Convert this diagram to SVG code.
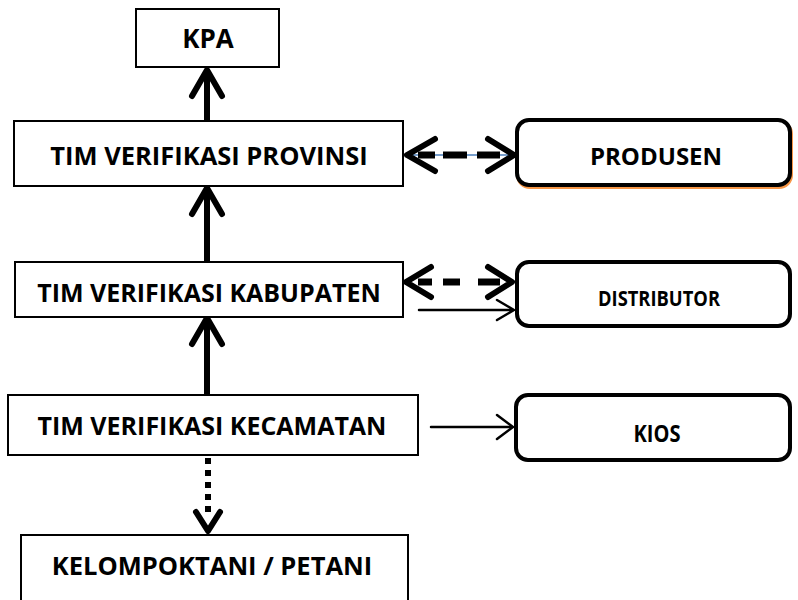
<svg xmlns="http://www.w3.org/2000/svg" width="798" height="600" viewBox="0 0 798 600">
<style>
.box{fill:#fff;stroke:#000;stroke-width:2}
.rbox{fill:#fff;stroke:#000;stroke-width:4}
.t{font-family:"Open Sans","Noto Sans","Liberation Sans",sans-serif;font-weight:bold;font-size:19px;fill:#000;text-anchor:middle;dominant-baseline:central}
.thick{stroke:#000;stroke-width:6;fill:none;stroke-linecap:round;stroke-linejoin:round}
.shaft{stroke:#000;stroke-width:6;fill:none}
.dash{stroke:#000;stroke-width:7;fill:none}
.thin{stroke:#000;stroke-width:2.5;fill:none;stroke-linecap:round;stroke-linejoin:round}
</style>
<rect width="798" height="600" fill="#fff"/>
<g id="connectors">
  <line class="shaft" x1="207" y1="121" x2="207" y2="72"/>
  <polyline class="thick" points="192,96 207,70 222,96"/>
  <line class="shaft" x1="207" y1="262" x2="207" y2="190"/>
  <polyline class="thick" points="192,214 207,188 222,214"/>
  <line class="shaft" x1="207" y1="395" x2="207" y2="320"/>
  <polyline class="thick" points="192,344 207,318 222,344"/>
  <line stroke="#000" stroke-width="6" stroke-dasharray="6,6" x1="208" y1="458" x2="208" y2="512"/>
  <polyline class="thick" points="196,512 208,531 220,512"/>
  <line stroke="#4a7ebb" stroke-width="1.5" x1="406" y1="155" x2="513" y2="155"/>
  <line class="dash" x1="418" y1="155" x2="435" y2="155"/>
  <line class="dash" x1="443" y1="155" x2="467" y2="155"/>
  <line class="dash" x1="477" y1="155" x2="500" y2="155"/>
  <polyline class="thick" points="435,139 407,155 435,171"/>
  <polyline class="thick" points="488,139 514,155 488,171"/>
  <line class="dash" x1="418" y1="282" x2="432" y2="282"/>
  <line class="dash" x1="443" y1="282" x2="460" y2="282"/>
  <line class="dash" x1="478" y1="282" x2="500" y2="282"/>
  <polyline class="thick" points="431,267 406,282 431,297"/>
  <polyline class="thick" points="488,267 512,282 488,297"/>
  <line class="thin" x1="419" y1="310" x2="513" y2="310"/>
  <polyline class="thin" points="497,300 514,310 497,320"/>
  <line class="thin" x1="431" y1="427" x2="512" y2="427"/>
  <polyline class="thin" points="497,415 513,427 497,439"/>
</g>
<g id="kpa">
  <rect class="box" x="136" y="9" width="143" height="58"/>
  <text class="t" x="208" y="38" style="font-size:26px">KPA</text>
</g>
<g id="provinsi">
  <rect class="box" x="14" y="121" width="389" height="65"/>
  <text class="t" x="209" y="155" style="font-size:25.5px">TIM VERIFIKASI PROVINSI</text>
</g>
<g id="kabupaten">
  <rect class="box" x="15" y="262" width="388" height="55"/>
  <text class="t" x="209" y="292" style="font-size:25px">TIM VERIFIKASI KABUPATEN</text>
</g>
<g id="kecamatan">
  <rect class="box" x="8" y="395" width="410" height="60"/>
  <text class="t" x="212" y="425" style="font-size:25px">TIM VERIFIKASI KECAMATAN</text>
</g>
<g id="kelompoktani">
  <rect class="box" x="21" y="535" width="387" height="70"/>
  <text class="t" x="212" y="565" style="font-size:25.5px">KELOMPOKTANI / PETANI</text>
</g>
<g id="produsen">
  <rect x="518" y="122" width="273" height="65" rx="12" fill="none" stroke="#f79646" stroke-width="4"/>
  <rect class="rbox" x="517" y="120" width="273" height="65" rx="12"/>
  <text class="t" x="656" y="155" style="font-size:24px">PRODUSEN</text>
</g>
<g id="distributor">
  <rect class="rbox" x="517" y="262" width="273" height="64" rx="12"/>
  <text class="t" x="659" y="297" style="font-size:22px" textLength="122" lengthAdjust="spacingAndGlyphs">DISTRIBUTOR</text>
</g>
<g id="kios">
  <rect class="rbox" x="516" y="395" width="274" height="65" rx="12"/>
  <text class="t" x="657" y="433" style="font-size:23px" textLength="47" lengthAdjust="spacingAndGlyphs">KIOS</text>
</g>
</svg>
